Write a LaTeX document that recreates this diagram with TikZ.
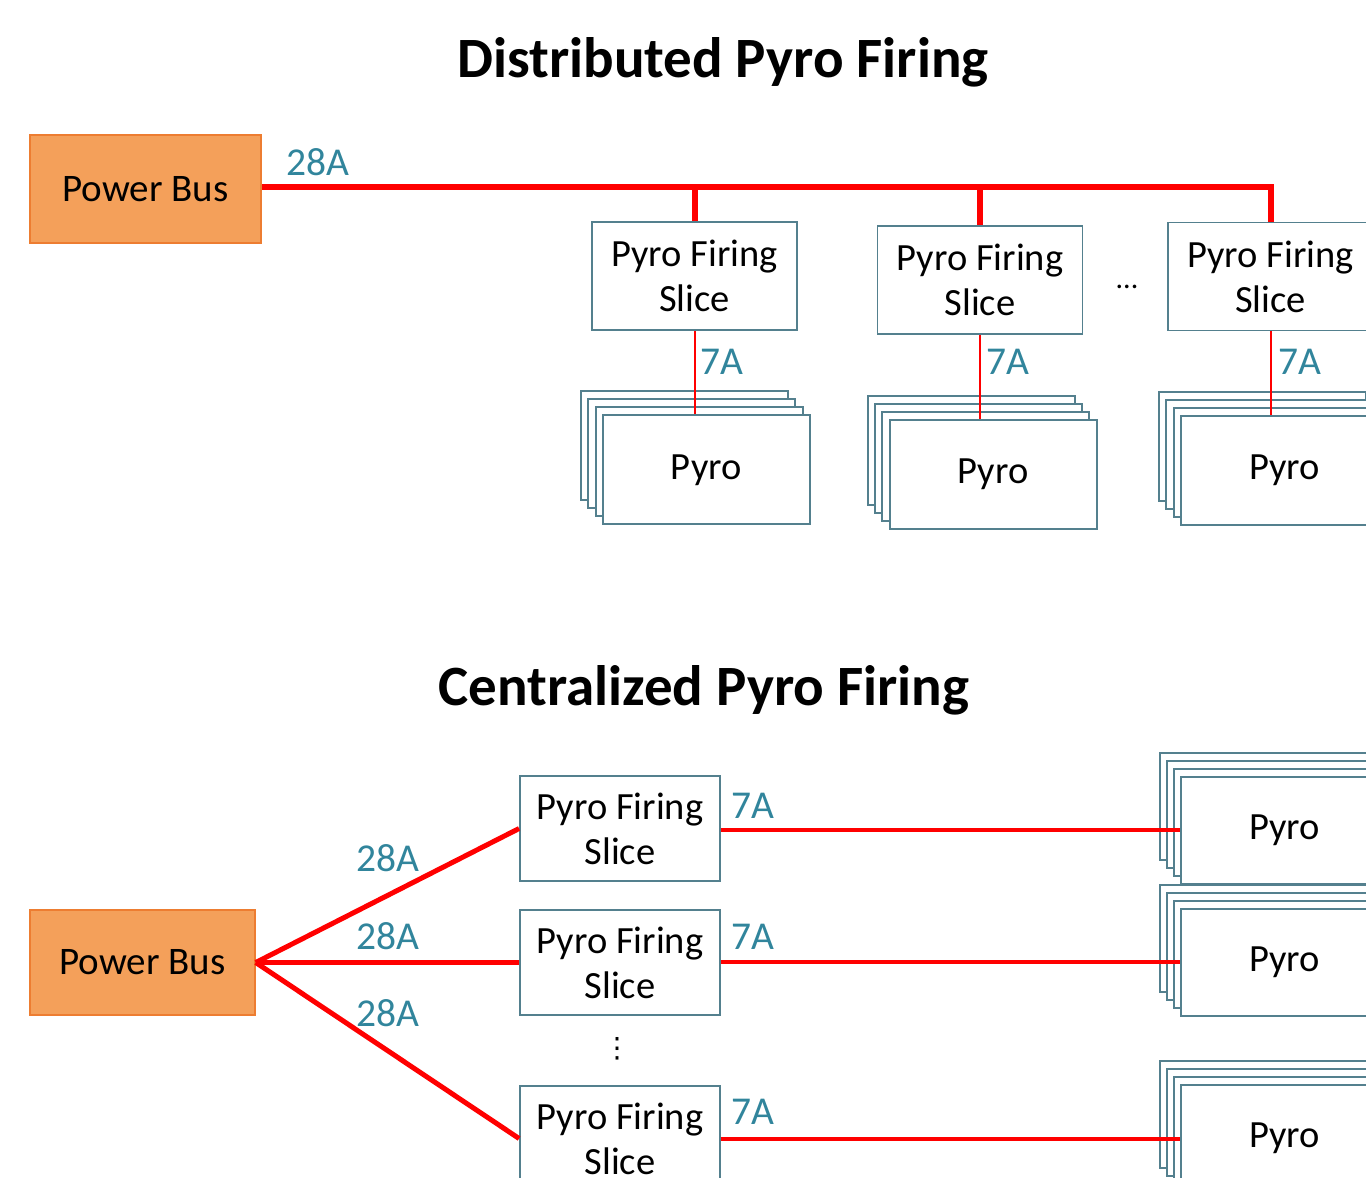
\documentclass[tikz,border=0pt]{standalone}
\usepackage{fontspec}
\setmainfont{Carlito}
\newfontfamily\symfont{DejaVu Sans}
\definecolor{busfill}{RGB}{244,160,90}
\definecolor{busdraw}{RGB}{237,125,49}
\definecolor{boxdraw}{RGB}{84,128,142}
\definecolor{lbl}{RGB}{49,133,156}
\definecolor{wire}{RGB}{255,0,0}
\tikzset{
  bus/.style={draw=busdraw, line width=1.5pt, fill=busfill, inner sep=0pt, font=\fontsize{39}{46}\selectfont},
  slicebox/.style={draw=boxdraw, line width=1.8pt, fill=white, inner sep=0pt, align=center, font=\fontsize{38.5}{45}\selectfont},
  pyrobox/.style={draw=boxdraw, line width=2pt, fill=white, inner sep=0pt, minimum width=207pt, font=\fontsize{38.5}{45}\selectfont},
  amp/.style={text=lbl, inner sep=0pt, font=\fontsize{39.5}{46}\selectfont},
  ttl/.style={inner sep=0pt, font=\fontsize{57}{64}\selectfont\bfseries},
  fat/.style={draw=wire, line width=6pt},
  mid/.style={draw=wire, line width=4pt},
  thin/.style={draw=wire, line width=2pt}
}
\begin{document}
\begin{tikzpicture}[x=1pt,y=-1pt]
\useasboundingbox (0,0) rectangle (1366,1178);
\clip (0,0) rectangle (1366,1178);

% ---------- Distributed ----------
\node[ttl] (t1) at (723,62) {Distributed Pyro Firing};
\node[bus, minimum width=231pt, minimum height=108pt] (pb1) at (145.5,189) {Power Bus};

\node[slicebox, minimum width=205pt, minimum height=108pt] (s1) at (694.5,276) {Pyro Firing\\Slice};
\node[slicebox, minimum width=205pt, minimum height=108pt] (s2) at (980,280) {Pyro Firing\\Slice};
\node[slicebox, minimum width=205pt, minimum height=108pt] (s3) at (1270.5,276.5) {Pyro Firing\\Slice};
\node[inner sep=0pt, font=\fontsize{30}{36}\selectfont] (dd) at (1127,287) {...};

% pyro stacks (top)
\foreach \cx/\cy/\nm in {706.3/469.8/p1, 993/474.5/p2, 1284.5/470.5/p3}{
  \node[pyrobox, minimum height=109pt] (\nm d) at (\cx-22,\cy-24) {};
  \node[pyrobox, minimum height=109pt] (\nm c) at (\cx-14.6,\cy-16) {};
  \node[pyrobox, minimum height=109pt] (\nm b) at (\cx-7.3,\cy-8) {};
  \node[pyrobox, minimum height=109pt] (\nm) at (\cx,\cy) {Pyro};
}

\coordinate (j3) at (s3.north |- 0,187);
\draw[fat] (pb1.east |- j3) -- (j3) -- (s3.north);
\draw[fat] (s1.north |- j3) -- (s1.north);
\draw[fat] (s2.north |- j3) -- (s2.north);
\draw[thin] (s1.south) -- (s1.south |- p1.north);
\draw[thin] (s2.south) -- (s2.south |- p2.north);
\draw[thin] (s3.south) -- (s3.south |- p3.north);

\node[amp] (a0) at (318,162) {28A};
\node[amp] (a1) at (722,362) {7A};
\node[amp] (a2) at (1008,362) {7A};
\node[amp] (a3) at (1300,362) {7A};

% ---------- Centralized ----------
\node[ttl] (t2) at (704,690) {Centralized Pyro Firing};
\node[bus, minimum width=225pt, minimum height=105pt] (pb2) at (142.5,962.5) {Power Bus};

\node[slicebox, minimum width=200pt, minimum height=105pt] (c1) at (620,828.5) {Pyro Firing\\Slice};
\node[slicebox, minimum width=200pt, minimum height=105pt] (c2) at (620,962.5) {Pyro Firing\\Slice};
\node[slicebox, minimum width=200pt, minimum height=105pt] (c3) at (620,1138.5) {Pyro Firing\\Slice};
\node[inner sep=0pt, font=\symfont\fontsize{28}{34}\selectfont] (vd) at (617,1049) {⋮};

\foreach \cy/\nm in {830/q1, 962/q2, 1138.5/q3}{
  \node[pyrobox, minimum height=107pt] (\nm d) at (1284.5-21,\cy-24) {};
  \node[pyrobox, minimum height=107pt] (\nm c) at (1284.5-14,\cy-16) {};
  \node[pyrobox, minimum height=107pt] (\nm b) at (1284.5-7,\cy-8) {};
  \node[pyrobox, minimum height=107pt] (\nm) at (1284.5,\cy) {Pyro};
}

\draw[fat, line width=5pt] (pb2.east) -- (c1.west);
\draw[fat, line width=5pt] (pb2.east) -- (c2.west);
\draw[fat, line width=5pt] (pb2.east) -- (c3.west);
\draw[mid] (c1.east |- q1.west) -- (q1.west);
\draw[mid] (c2.east |- q2.west) -- (q2.west);
\draw[mid] (c3.east |- q3.west) -- (q3.west);

\node[amp] (b1) at (388,858) {28A};
\node[amp] (b2) at (388,936) {28A};
\node[amp] (b3) at (388,1013) {28A};
\node[amp] (b4) at (753,806) {7A};
\node[amp] (b5) at (753,937) {7A};
\node[amp] (b6) at (753,1112) {7A};
\end{tikzpicture}
\end{document}
